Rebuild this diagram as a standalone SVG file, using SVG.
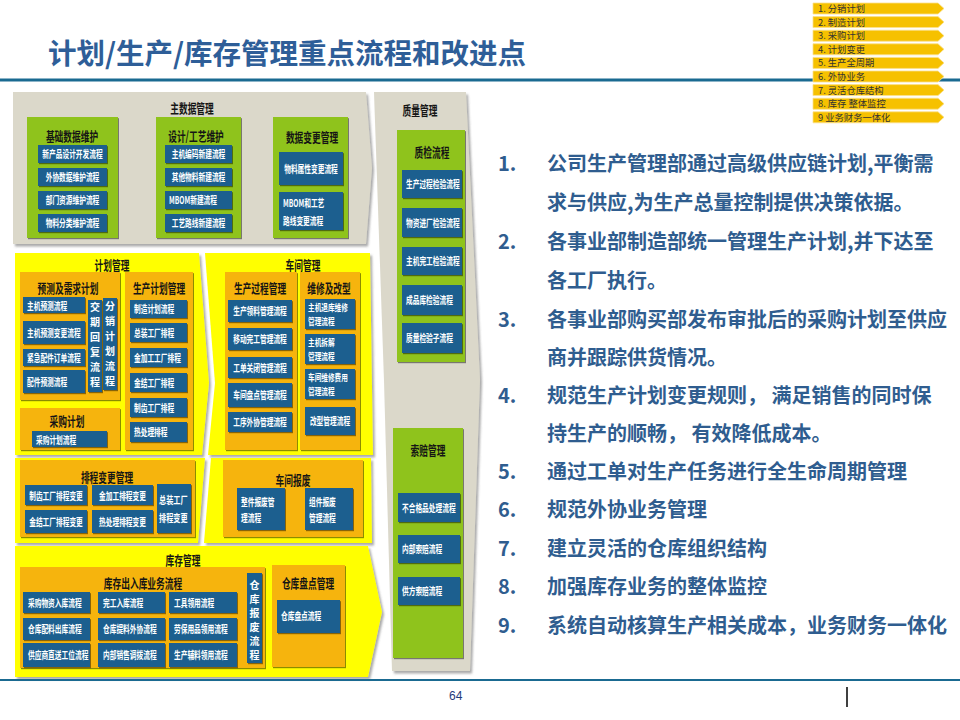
<svg xmlns="http://www.w3.org/2000/svg" width="960" height="720" viewBox="0 0 960 720">
<defs>
<style>
.f{font-family:"Noto Sans CJK SC","Noto Sans",sans-serif}
.w{fill:#fff;font-size:10.5px;font-weight:700}
.w2{fill:#fff;font-size:9.5px;font-weight:700}
.h{fill:#151515;font-size:13px;font-weight:700}
.v{fill:#fff;font-size:10px;font-weight:700}
.bx{fill:#1e5e8f;filter:url(#sh)}
.gr{fill:#8fc31f;filter:url(#sh)}
.or{fill:#f6b40f;filter:url(#sh)}
.ye{fill:#ffff00;filter:url(#sh2)}
.gy{fill:#dbd8ca;filter:url(#sh2)}
.lg{fill:#f6c100;stroke:#fbe08a;stroke-width:0.8}
.lt{font-size:9.3px;fill:#333}
.rn{fill:#2f5d8f;font-size:20px;font-weight:700}
</style>
<filter id="sh" x="-10%" y="-10%" width="130%" height="130%"><feDropShadow dx="1" dy="1.2" stdDeviation="0.7" flood-color="#000" flood-opacity="0.45"/></filter>
<filter id="sh2" x="-5%" y="-5%" width="115%" height="115%"><feDropShadow dx="2" dy="2.5" stdDeviation="1" flood-color="#555" flood-opacity="0.5"/></filter>
</defs>
<rect width="960" height="720" fill="#fff"/>

<g id="header">
<text class="f" x="48" y="64" font-size="28.5" font-weight="700" fill="#2e5e98">计划/生产/库存管理重点流程和改进点</text>
<rect x="0" y="78.5" width="960" height="3" fill="#1a6a91"/>
</g>

<g id="legend">
<path class="lg" d="M813,3H938L944,8.5L938,14H813Z"/><text class="f lt" x="818" y="12">1. 分销计划</text>
<path class="lg" d="M813,16.6H938L944,22.1L938,27.6H813Z"/><text class="f lt" x="818" y="25.6">2. 制造计划</text>
<path class="lg" d="M813,30.2H938L944,35.7L938,41.2H813Z"/><text class="f lt" x="818" y="39.2">3. 采购计划</text>
<path class="lg" d="M813,43.8H938L944,49.3L938,54.8H813Z"/><text class="f lt" x="818" y="52.8">4. 计划变更</text>
<path class="lg" d="M813,57.4H938L944,62.9L938,68.4H813Z"/><text class="f lt" x="818" y="66.4">5. 生产全周期</text>
<path class="lg" d="M813,71H938L944,76.5L938,82H813Z"/><text class="f lt" x="818" y="80">6. 外协业务</text>
<path class="lg" d="M813,84.6H938L944,90.1L938,95.6H813Z"/><text class="f lt" x="818" y="93.6">7. 灵活仓库结构</text>
<path class="lg" d="M813,98.2H938L944,103.7L938,109.2H813Z"/><text class="f lt" x="818" y="107.2">8. 库存 整体监控</text>
<path class="lg" d="M813,111.8H938L944,117.3L938,122.8H813Z"/><text class="f lt" x="818" y="120.8">9 业务财务一体化</text>
</g>

<g id="quality">
<polygon class="gy" points="374,92 466,92 480,380 470,671 392,671 384,380"/>
<text class="f h" text-anchor="middle" transform="translate(420,114.5) scale(.67 1)">质量管理</text>
<rect class="gr" x="397" y="130" width="68" height="232"/>
<text class="f h" text-anchor="middle" transform="translate(432,156.5) scale(.67 1)">质检流程</text>
<rect class="bx" x="402" y="170" width="60" height="28"/><text class="f w" transform="translate(406,188) scale(.64 1)">生产过程检验流程</text>
<rect class="bx" x="402" y="208" width="60" height="29"/><text class="f w" transform="translate(406,226.5) scale(.64 1)">物资进厂检验流程</text>
<rect class="bx" x="402" y="247" width="60" height="28"/><text class="f w" transform="translate(406,265) scale(.64 1)">主机完工检验流程</text>
<rect class="bx" x="402" y="285" width="60" height="30"/><text class="f w" transform="translate(406,304) scale(.64 1)">成品库检验流程</text>
<rect class="bx" x="402" y="323" width="60" height="30"/><text class="f w" transform="translate(406,342) scale(.64 1)">质量检验子流程</text>
</g>
<g id="claims">
<rect class="gr" x="393" y="428" width="70" height="230"/>
<text class="f h" text-anchor="middle" transform="translate(428,454.5) scale(.67 1)">索赔管理</text>
<rect class="bx" x="398" y="493" width="62" height="29"/><text class="f w" transform="translate(402,511.5) scale(.64 1)">不合格品处理流程</text>
<rect class="bx" x="398" y="535" width="62" height="28"/><text class="f w" transform="translate(402,553) scale(.64 1)">内部索赔流程</text>
<rect class="bx" x="398" y="577" width="62" height="28"/><text class="f w" transform="translate(402,595) scale(.64 1)">供方索赔流程</text>
</g>

<g id="master-data">
<polygon class="gy" points="13,92 366,92 372,168 366,244 13,244"/>
<text class="f h" text-anchor="middle" transform="translate(192,112.5) scale(.67 1)">主数据管理</text>
<rect class="gr" x="27" y="117" width="91" height="121"/>
<text class="f h" text-anchor="middle" transform="translate(72,140.5) scale(.67 1)">基础数据维护</text>
<rect class="bx" x="38" y="145" width="69" height="18"/><text class="f w" text-anchor="middle" transform="translate(72.5,158) scale(.64 1)">新产品设计开发流程</text>
<rect class="bx" x="38" y="168" width="69" height="18"/><text class="f w" text-anchor="middle" transform="translate(72.5,181) scale(.64 1)">外协数据维护流程</text>
<rect class="bx" x="38" y="191" width="69" height="18"/><text class="f w" text-anchor="middle" transform="translate(72.5,204) scale(.64 1)">部门资源维护流程</text>
<rect class="bx" x="38" y="214" width="69" height="18"/><text class="f w" text-anchor="middle" transform="translate(72.5,227) scale(.64 1)">物料分类维护流程</text>
<rect class="gr" x="156" y="117" width="85" height="121"/>
<text class="f h" text-anchor="middle" transform="translate(196,140.5) scale(.67 1)">设计/工艺维护</text>
<rect class="bx" x="165" y="145" width="67" height="18"/><text class="f w" text-anchor="middle" transform="translate(198.5,158) scale(.64 1)">主机编码新建流程</text>
<rect class="bx" x="165" y="168" width="67" height="18"/><text class="f w" text-anchor="middle" transform="translate(198.5,181) scale(.64 1)">其他物料新建流程</text>
<rect class="bx" x="165" y="191" width="67" height="18"/><text class="f w" transform="translate(169,204) scale(.64 1)">MBOM新建流程</text>
<rect class="bx" x="165" y="214" width="67" height="18"/><text class="f w" text-anchor="middle" transform="translate(198.5,227) scale(.64 1)">工艺路线新建流程</text>
<rect class="gr" x="273" y="117" width="75" height="121"/>
<text class="f h" text-anchor="middle" transform="translate(312,141.5) scale(.67 1)">数据变更管理</text>
<rect class="bx" x="279" y="152" width="64" height="33"/><text class="f w" text-anchor="middle" transform="translate(311,172.5) scale(.64 1)">物料属性变更流程</text>
<rect class="bx" x="279" y="192" width="64" height="38"/><text class="f w" transform="translate(283,207) scale(.64 1)"><tspan x="0" y="0">MBOM和工艺</tspan><tspan x="0" y="18">路线变更流程</tspan></text>
</g>

<g id="planning">
<polygon class="ye" points="15,253 199,253 209,383 202,455 15,455"/>
<text class="f h" text-anchor="middle" transform="translate(112,269.5) scale(.67 1)">计划管理</text>
<rect class="or" x="20" y="272" width="100" height="128"/>
<text class="f h" text-anchor="middle" transform="translate(68,292.5) scale(.67 1)">预测及需求计划</text>
<rect class="bx" x="23" y="297" width="62" height="16"/><text class="f w" transform="translate(27,309.5) scale(.64 1)">主机预测流程</text>
<rect class="bx" x="23" y="321" width="62" height="23"/><text class="f w" transform="translate(27,336.5) scale(.64 1)">主机预测变更流程</text>
<rect class="bx" x="23" y="349" width="62" height="17"/><text class="f w" transform="translate(27,361.5) scale(.64 1)">紧急配件订单流程</text>
<rect class="bx" x="23" y="370" width="62" height="23"/><text class="f w" transform="translate(27,385.5) scale(.64 1)">配件预测流程</text>
<rect class="bx" x="88" y="300" width="14" height="92"/>
<text class="f v" text-anchor="middle"><tspan x="95" y="311">交</tspan><tspan x="95" y="326">期</tspan><tspan x="95" y="341">回</tspan><tspan x="95" y="356">复</tspan><tspan x="95" y="371">流</tspan><tspan x="95" y="386">程</tspan></text>
<rect class="bx" x="103" y="298" width="14" height="92"/>
<text class="f v" text-anchor="middle"><tspan x="110" y="310">分</tspan><tspan x="110" y="325">销</tspan><tspan x="110" y="340">计</tspan><tspan x="110" y="355">划</tspan><tspan x="110" y="370">流</tspan><tspan x="110" y="385">程</tspan></text>
<rect class="or" x="20" y="408" width="100" height="42"/>
<text class="f h" text-anchor="middle" transform="translate(67,426) scale(.67 1)">采购计划</text>
<rect class="bx" x="32" y="431" width="75" height="16"/><text class="f w" transform="translate(36,443.5) scale(.64 1)">采购计划流程</text>
<rect class="or" x="125" y="272" width="68" height="178"/>
<text class="f h" text-anchor="middle" transform="translate(159,292.5) scale(.67 1)">生产计划管理</text>
<rect class="bx" x="130" y="300" width="57" height="18"/><text class="f w" transform="translate(134,313) scale(.64 1)">制造计划流程</text>
<rect class="bx" x="130" y="323" width="57" height="19"/><text class="f w" transform="translate(134,336.5) scale(.64 1)">总装工厂排程</text>
<rect class="bx" x="130" y="348" width="57" height="19"/><text class="f w" transform="translate(134,361.5) scale(.64 1)">金加工工厂排程</text>
<rect class="bx" x="130" y="373" width="57" height="19"/><text class="f w" transform="translate(134,386.5) scale(.64 1)">金结工厂排程</text>
<rect class="bx" x="130" y="398" width="57" height="19"/><text class="f w" transform="translate(134,411.5) scale(.64 1)">制齿工厂排程</text>
<rect class="bx" x="130" y="422" width="57" height="20"/><text class="f w" transform="translate(134,436) scale(.64 1)">热处理排程</text>
</g>

<g id="workshop">
<polygon class="ye" points="205,253 370,253 373,455 208,455 215,383"/>
<text class="f h" text-anchor="middle" transform="translate(303,269.5) scale(.67 1)">车间管理</text>
<rect class="or" x="225" y="272" width="72" height="178"/>
<text class="f h" text-anchor="middle" transform="translate(260,292.5) scale(.67 1)">生产过程管理</text>
<rect class="bx" x="228" y="300" width="64" height="22"/><text class="f w" text-anchor="middle" transform="translate(260,315) scale(.64 1)">生产领料管理流程</text>
<rect class="bx" x="228" y="328" width="64" height="22"/><text class="f w" text-anchor="middle" transform="translate(260,343) scale(.64 1)">移动完工管理流程</text>
<rect class="bx" x="228" y="357" width="64" height="21"/><text class="f w" text-anchor="middle" transform="translate(260,371.5) scale(.64 1)">工单关闭管理流程</text>
<rect class="bx" x="228" y="383" width="64" height="24"/><text class="f w" text-anchor="middle" transform="translate(260,399) scale(.64 1)">车间盘点管理流程</text>
<rect class="bx" x="228" y="412" width="64" height="20"/><text class="f w" text-anchor="middle" transform="translate(260,426) scale(.64 1)">工序外协管理流程</text>
<rect class="or" x="300" y="272" width="60" height="178"/>
<text class="f h" text-anchor="middle" transform="translate(329,292.5) scale(.67 1)">维修及改型</text>
<rect class="bx" x="305" y="299" width="50" height="30"/><text class="f w2" transform="translate(308,311) scale(.7 1)"><tspan x="0" y="0">主机退库维修</tspan><tspan x="0" y="14">管理流程</tspan></text>
<rect class="bx" x="305" y="334" width="50" height="30"/><text class="f w2" transform="translate(308,346) scale(.7 1)"><tspan x="0" y="0">主机拆解</tspan><tspan x="0" y="14">管理流程</tspan></text>
<rect class="bx" x="305" y="369" width="50" height="30"/><text class="f w2" transform="translate(308,381) scale(.7 1)"><tspan x="0" y="0">车间维修费用</tspan><tspan x="0" y="14">管理流程</tspan></text>
<rect class="bx" x="305" y="407" width="50" height="28"/><text class="f w" text-anchor="middle" transform="translate(330,425) scale(.64 1)">改型管理流程</text>
</g>

<g id="schedule-change">
<polygon class="ye" points="15,458 205,458 198,543 15,543"/>
<rect class="or" x="20" y="460" width="175" height="77"/>
<text class="f h" text-anchor="middle" transform="translate(107,482) scale(.67 1)">排程变更管理</text>
<rect class="bx" x="25" y="485" width="62" height="20"/><text class="f w" text-anchor="middle" transform="translate(56,499.5) scale(.64 1)">制齿工厂排程变更</text>
<rect class="bx" x="92" y="485" width="61" height="20"/><text class="f w" text-anchor="middle" transform="translate(122.5,499.5) scale(.64 1)">金加工排程变更</text>
<rect class="bx" x="25" y="510" width="62" height="23"/><text class="f w" text-anchor="middle" transform="translate(56,525.5) scale(.64 1)">金结工厂排程变更</text>
<rect class="bx" x="92" y="510" width="61" height="23"/><text class="f w" text-anchor="middle" transform="translate(122.5,525.5) scale(.64 1)">热处理排程变更</text>
<rect class="bx" x="157" y="484" width="34" height="49"/><text class="f w" transform="translate(159,504) scale(.68 1)"><tspan x="0" y="0">总装工厂</tspan><tspan x="0" y="18">排程变更</tspan></text>
</g>

<g id="scrap">
<polygon class="ye" points="211,458 371,458 372,543 204,543"/>
<rect class="or" x="223" y="460" width="140" height="77"/>
<text class="f h" text-anchor="middle" transform="translate(293,484.5) scale(.67 1)">车间报废</text>
<rect class="bx" x="237" y="488" width="48" height="42"/><text class="f w" transform="translate(241,506) scale(.64 1)"><tspan x="0" y="0">整件报废管</tspan><tspan x="0" y="16">理流程</tspan></text>
<rect class="bx" x="305" y="488" width="48" height="42"/><text class="f w" transform="translate(309,506) scale(.64 1)"><tspan x="0" y="0">组件报废</tspan><tspan x="0" y="16">管理流程</tspan></text>
</g>

<g id="inventory">
<polygon class="ye" points="15,546 368,546 382,612 368,677 15,677"/>
<text class="f h" text-anchor="middle" transform="translate(183,564.5) scale(.67 1)">库存管理</text>
<rect class="or" x="20" y="567" width="245" height="101"/>
<text class="f h" text-anchor="middle" transform="translate(143,587.5) scale(.67 1)">库存出入库业务流程</text>
<rect class="bx" x="23" y="592" width="67" height="21"/><text class="f w" transform="translate(28,606.5) scale(.64 1)">采购物资入库流程</text>
<rect class="bx" x="98" y="592" width="67" height="21"/><text class="f w" transform="translate(103,606.5) scale(.64 1)">完工入库流程</text>
<rect class="bx" x="169" y="592" width="68" height="21"/><text class="f w" transform="translate(174,606.5) scale(.64 1)">工具领用流程</text>
<rect class="bx" x="23" y="618" width="67" height="22"/><text class="f w" transform="translate(28,633) scale(.64 1)">仓库配料出库流程</text>
<rect class="bx" x="98" y="618" width="67" height="22"/><text class="f w" transform="translate(103,633) scale(.64 1)">仓库提料外协流程</text>
<rect class="bx" x="169" y="618" width="68" height="22"/><text class="f w" transform="translate(174,633) scale(.64 1)">劳保用品领用流程</text>
<rect class="bx" x="23" y="643" width="67" height="24"/><text class="f w" transform="translate(28,659) scale(.64 1)">供应商直送工位流程</text>
<rect class="bx" x="98" y="643" width="67" height="24"/><text class="f w" transform="translate(103,659) scale(.64 1)">内部销售调拨流程</text>
<rect class="bx" x="169" y="643" width="68" height="24"/><text class="f w" transform="translate(174,659) scale(.64 1)">生产辅料领用流程</text>
<rect class="bx" x="247" y="573" width="15" height="90"/>
<text class="f v" font-size="9.5" text-anchor="middle"><tspan x="254.5" y="589">仓</tspan><tspan x="254.5" y="603">库</tspan><tspan x="254.5" y="617">报</tspan><tspan x="254.5" y="631">废</tspan><tspan x="254.5" y="645">流</tspan><tspan x="254.5" y="659">程</tspan></text>
<rect class="or" x="272" y="565" width="73" height="102"/>
<text class="f h" text-anchor="middle" transform="translate(308,587.5) scale(.67 1)">仓库盘点管理</text>
<rect class="bx" x="277" y="600" width="63" height="33"/><text class="f w" transform="translate(281,620) scale(.64 1)">仓库盘点流程</text>
</g>

<g id="points" class="f">
<text class="rn" x="498" y="171">1.</text><text class="rn" x="547" y="171">公司生产管理部通过高级供应链计划,平衡需</text>
<text class="rn" x="547" y="210">求与供应,为生产总量控制提供决策依据。</text>
<text class="rn" x="498" y="249">2.</text><text class="rn" x="547" y="249">各事业部制造部统一管理生产计划,并下达至</text>
<text class="rn" x="547" y="288">各工厂执行。</text>
<text class="rn" x="498" y="327">3.</text><text class="rn" x="547" y="327">各事业部购买部发布审批后的采购计划至供应</text>
<text class="rn" x="547" y="365">商并跟踪供货情况。</text>
<text class="rn" x="498" y="403">4.</text><text class="rn" x="547" y="403">规范生产计划变更规则， 满足销售的同时保</text>
<text class="rn" x="547" y="441">持生产的顺畅， 有效降低成本。</text>
<text class="rn" x="498" y="479">5.</text><text class="rn" x="547" y="479">通过工单对生产任务进行全生命周期管理</text>
<text class="rn" x="498" y="517">6.</text><text class="rn" x="547" y="517">规范外协业务管理</text>
<text class="rn" x="498" y="556">7.</text><text class="rn" x="547" y="556">建立灵活的仓库组织结构</text>
<text class="rn" x="498" y="594">8.</text><text class="rn" x="547" y="594">加强库存业务的整体监控</text>
<text class="rn" x="498" y="633">9.</text><text class="rn" x="547" y="633">系统自动核算生产相关成本，业务财务一体化</text>
</g>

<g id="footer">
<rect x="0" y="679" width="960" height="2" fill="#1a6a91"/>
<text x="449" y="700" font-family="Liberation Sans, sans-serif" font-size="12" fill="#1f3a7a">64</text>
<line x1="847" y1="687" x2="847" y2="707" stroke="#000" stroke-width="1.5"/>
</g>
</svg>
